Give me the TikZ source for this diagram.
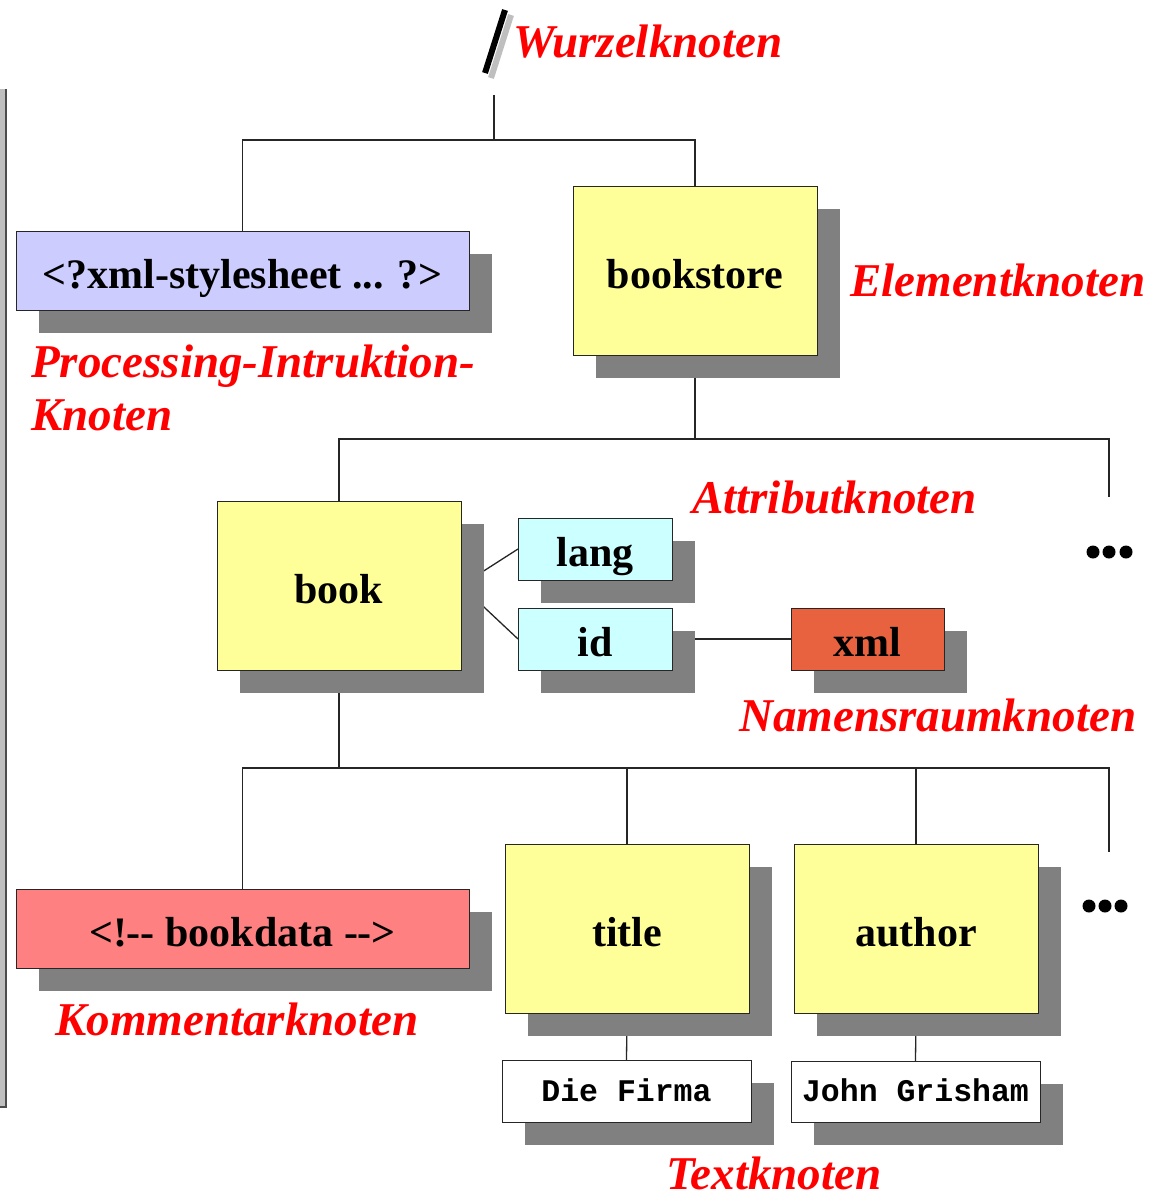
\documentclass[tikz,border=0pt]{standalone}
\usepackage{fontspec}
\setmainfont[Ligatures=NoCommon]{Liberation Serif}
\newfontfamily\monofont{Liberation Mono}
\usetikzlibrary{shadows,backgrounds}

\definecolor{piblue}{HTML}{CCCCFF}
\definecolor{elemyellow}{HTML}{FFFF99}
\definecolor{attrcyan}{HTML}{CCFFFF}
\definecolor{nsorange}{HTML}{E8623F}
\definecolor{commentred}{HTML}{FF8080}
\definecolor{shadowgray}{HTML}{808080}
\definecolor{labelred}{HTML}{FF0000}

\tikzset{
  xmlbox/.style={draw=black!85, line width=1pt, inner sep=0pt, outer sep=0pt,
    font=\fontsize{42}{48}\selectfont\bfseries, text height=36pt, text depth=1pt,
    drop shadow={shadow xshift=23pt, shadow yshift=-23pt, fill=shadowgray, opacity=1}},
  textbox/.style={xmlbox, fill=white, text height=21pt, text depth=1pt,
    font=\fontsize{31.5}{36}\selectfont\monofont\bfseries},
  kindlabel/.style={text=labelred, inner sep=0pt, anchor=base west,
    font=\fontsize{47}{53}\selectfont\bfseries\itshape},
  conn/.style={draw=black!85, line width=1.3pt},
  dot/.style={fill=black, draw=none}
}

\begin{document}
\begin{tikzpicture}[x=1pt, y=-1pt]
\useasboundingbox (0,0) rectangle (1153,1197);

% edge strip on the left
\fill[gray!50] (-1,89) rectangle (6,1107);
\draw[black!70, line width=1.3pt] (6,89) -- (6,1107) -- (-1,1107);

% root mark
\draw[line width=6pt, gray!50] (491,78) -- (511,15);
\draw[line width=6pt, black] (485,73) -- (505,10);
\coordinate (root) at (494,95);

% element and other nodes
\node[xmlbox, fill=piblue, minimum width=453pt, minimum height=79pt] (pi) at (242.5,270.5) {<?xml-stylesheet ... ?>};
\node[xmlbox, fill=elemyellow, minimum width=244pt, minimum height=169pt] (bookstore) at (695,270.5) {bookstore};
\node[xmlbox, fill=elemyellow, minimum width=244pt, minimum height=169pt] (book) at (339,585.5) {book};
\node[xmlbox, fill=attrcyan, minimum width=154pt, minimum height=62pt] (lang) at (595,549) {lang};
\node[xmlbox, fill=attrcyan, minimum width=154pt, minimum height=62pt] (id) at (595,639) {id};
\node[xmlbox, fill=nsorange, minimum width=153pt, minimum height=62pt] (xml) at (867.5,639) {xml};
\node[xmlbox, fill=commentred, minimum width=453pt, minimum height=79pt] (comment) at (242.5,928.5) {<!-{}- bookdata -{}->};
\node[xmlbox, fill=elemyellow, minimum width=244pt, minimum height=169pt] (title) at (627,928.5) {title};
\node[xmlbox, fill=elemyellow, minimum width=244pt, minimum height=169pt] (author) at (916,928.5) {author};
\node[textbox, minimum width=249pt, minimum height=62pt] (firma) at (626.5,1091) {Die Firma};
\node[textbox, minimum width=249pt, minimum height=61pt] (john) at (915.5,1091.5) {John Grisham};

% bus points and open ends
\coordinate (bus1) at (494,140);
\coordinate (bus2) at (695,439);
\coordinate (bus3) at (339,768);
\coordinate (more1) at (1109,497);
\coordinate (more2) at (1109,852);

% connectors, behind boxes and shadows
\begin{scope}[on background layer]
  \draw[conn] (root) -- (bus1) -| (pi.north);
  \draw[conn] (bus1) -| (bookstore.north);
  \draw[conn] (bookstore.south) -- (bus2) -| (book.north);
  \draw[conn] (bus2) -| (more1);
  \draw[conn] (book.east) -- (lang.west);
  \draw[conn] (book.east) -- (id.west);
  \draw[conn] (id.east) -- (xml.west);
  \draw[conn] (book.south) -- (bus3) -| (comment.north);
  \draw[conn] (bus3) -| (title.north);
  \draw[conn] (bus3) -| (author.north);
  \draw[conn] (bus3) -| (more2);
  \draw[conn] (title.south) -- (firma.north);
  \draw[conn] (author.south) -- (john.north);
\end{scope}

% ellipsis marks
\foreach \x in {1093,1109,1126} \fill[dot] (\x,552) circle (6.5pt);
\foreach \x in {1089,1105,1121} \fill[dot] (\x,906) circle (6.5pt);

% node kind labels
\node[kindlabel] (lroot) at (513,57) {Wurzelknoten};
\node[kindlabel] (lelem) at (850,296) {Elementknoten};
\node[kindlabel, align=left, anchor=north west] (lpi) at (31,345) {Processing-Intruktion-\\Knoten};
\node[kindlabel] (lattr) at (692,513) {Attributknoten};
\node[kindlabel] (lns) at (739,731) {Namensraumknoten};
\node[kindlabel] (lcomm) at (55,1035) {Kommentarknoten};
\node[kindlabel] (ltext) at (666,1189) {Textknoten};
\end{tikzpicture}
\end{document}
